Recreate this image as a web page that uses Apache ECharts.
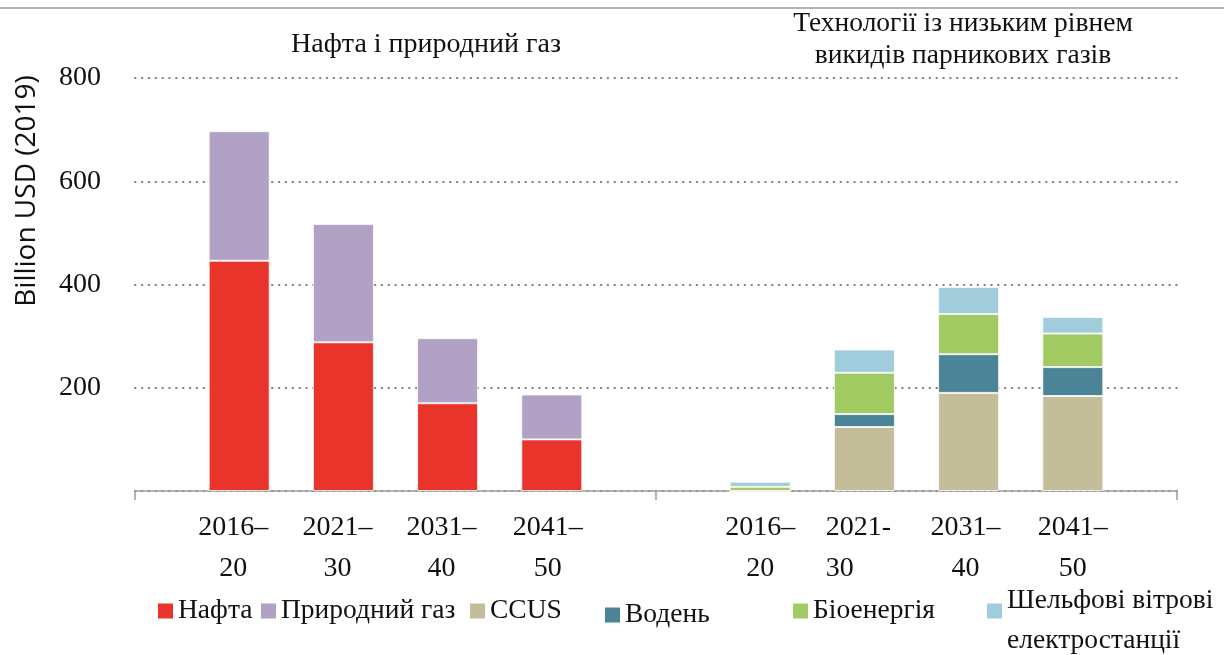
<!DOCTYPE html>
<html>
<head>
<meta charset="utf-8">
<script src="https://cdn.jsdelivr.net/npm/echarts@6/dist/echarts.min.js"></script>
<style>
  html, body { margin: 0; padding: 0; background: #ffffff; }
  #chart { width: 1224px; height: 655px; }
</style>
</head>
<body>
<div id="chart"></div>
<script>
// Investment periods for the two groups of bars
const periodsFossil = ['2016–20', '2021–30', '2031–40', '2041–50'];
const periodsLowCarbon = ['2016–20', '2021-30', '2031–40', '2041–50'];

// Oil and natural gas, billion USD (2019)
const oil = [446, 288, 170, 100];
const naturalGas = [251, 229, 126, 87];

// Low-emission technologies, billion USD (2019)
const ccus = [0, 124, 190, 184];
const hydrogen = [0, 25, 75, 56];
const bioenergy = [8, 80, 78, 65];
const offshoreWind = [10, 45, 52, 32];

// Value axis ticks
const yTicks = [0, 200, 400, 600, 800];

const SERIF = '"Liberation Serif", "DejaVu Serif", serif';
const INK = '#111111';
const FS = 28;

// One category axis: empty slot, four fossil periods, empty divider slot,
// four low-carbon periods, empty slot.
const categories = ['', ...periodsFossil, '', ...periodsLowCarbon, ''];
const padLeft = v => [null, ...v, null, null, null, null, null, null];
const padRight = v => [null, null, null, null, null, null, ...v, null];

// Horizontal nudges for the two-line period labels (px)
const labelNudge = {
  1: { dx: -6 }, 2: { dx: -6 }, 3: { dx: -6 }, 4: { dx: -4 },
  6: { dx: 0 }, 7: { dx: -6, secondLeft: true }, 8: { dx: -3 }, 9: { dx: 0 }
};
const labelFont = { fontFamily: SERIF, fontSize: FS, color: INK, lineHeight: 41 };
const labelRich = {};
Object.keys(labelNudge).forEach(k => {
  const n = labelNudge[k];
  labelRich['t' + k] = Object.assign({ padding: [0, -2 * n.dx, 0, 0] }, labelFont);
  labelRich['b' + k] = Object.assign({ padding: [0, -2 * n.dx, 0, 0], align: n.secondLeft ? 'left' : 'center' }, labelFont);
});
const formatPeriod = (value, index) => {
  if (!value) return '';
  const m = value.match(/^(\d{4}[–-])(\d{2})$/);
  return '{t' + index + '|' + m[1] + '}\n{b' + index + '|' + m[2] + '}';
};

const barBorder = { borderColor: 'rgba(255,255,255,0.75)', borderWidth: 1 };
const makeSeries = (name, data, color) => ({
  name, type: 'bar', stack: 'total', data, barWidth: 61,
  itemStyle: Object.assign({ color }, barBorder),
  emphasis: { disabled: true }
});

const windName = 'Шельфові вітрові електростанції';
const series = [
  makeSeries('Нафта', padLeft(oil), '#e8342a'),
  makeSeries('Природний газ', padLeft(naturalGas), '#b0a1c5'),
  makeSeries('CCUS', padRight(ccus), '#c3bd9a'),
  makeSeries('Водень', padRight(hydrogen), '#4b8397'),
  makeSeries('Біоенергія', padRight(bioenergy), '#a2ca62'),
  makeSeries(windName, padRight(offshoreWind), '#a0ccdb')
];

// Legend entries placed one by one along the bottom
const legendSpots = [
  { name: 'Нафта', left: 158, top: 596 },
  { name: 'Природний газ', left: 261, top: 596 },
  { name: 'CCUS', left: 470, top: 596 },
  { name: 'Водень', left: 605, top: 600 },
  { name: 'Біоенергія', left: 793, top: 596 },
  { name: windName, left: 987, top: 561 }
];
const legendText = { fontFamily: SERIF, fontSize: 27.5, color: INK, lineHeight: 30 };
const legend = legendSpots.map(s => {
  const item = {
    data: [s.name], left: s.left, top: s.top, padding: 0,
    icon: 'rect', itemWidth: 15, itemHeight: 15, selectedMode: false,
    itemStyle: { borderWidth: 0 },
    textStyle: Object.assign({}, legendText)
  };
  if (s.name === windName) {
    // two lines, first line sitting a little above the swatch
    item.formatter = '{s| }\n{w|Шельфові вітрові}\n{w|електростанції}';
    item.textStyle.rich = {
      s: Object.assign({}, legendText, { lineHeight: 20, fontSize: 10 }),
      w: Object.assign({}, legendText, { lineHeight: 40 })
    };
  }
  return item;
});

const chart = echarts.init(document.getElementById('chart'), null, { renderer: 'canvas' });
chart.setOption({
  backgroundColor: '#ffffff',
  animation: false,
  grid: { left: 135, right: 47, top: 78, bottom: 164, containLabel: false },
  xAxis: {
    type: 'category',
    data: categories,
    boundaryGap: false,
    axisLine: { show: true, lineStyle: { color: '#9a9a9a', width: 1.5 } },
    axisTick: {
      show: true, length: 9,
      interval: idx => idx === 0 || idx === 5 || idx === 10,
      lineStyle: { color: '#9a9a9a', width: 1.5 }
    },
    axisLabel: {
      interval: 0, margin: 16, formatter: formatPeriod, rich: labelRich,
      fontFamily: SERIF, fontSize: FS, color: INK, lineHeight: 41
    },
    splitLine: { show: false }
  },
  yAxis: {
    type: 'value',
    min: yTicks[0], max: yTicks[yTicks.length - 1], interval: 200,
    axisLine: { show: false },
    axisTick: { show: false },
    axisLabel: {
      showMinLabel: false, margin: 34,
      fontFamily: SERIF, fontSize: FS, color: INK
    },
    splitLine: { show: true, lineStyle: { color: '#7f7f7f', width: 2, type: [0.5, 6.35], cap: 'round' } }
  },
  legend,
  series,
  graphic: [
    { type: 'line', shape: { x1: 0, y1: 8, x2: 1224, y2: 8 }, style: { stroke: '#b4b4b4', lineWidth: 2 }, silent: true },
    { type: 'text', x: 426, y: 44.5, silent: true,
      style: { text: 'Нафта і природний газ', font: FS + 'px ' + SERIF, fill: INK, align: 'center', verticalAlign: 'middle' } },
    { type: 'text', x: 963, y: 40, silent: true,
      style: { text: 'Технології із низьким рівнем\nвикидів парникових газів', font: '27.5px ' + SERIF, fill: INK,
               align: 'center', verticalAlign: 'middle', lineHeight: 32 } },
    { type: 'text', x: 27, y: 191, rotation: Math.PI / 2, silent: true,
      style: { text: 'Billion USD (2019)', font: '28px "Open Sans", "DejaVu Sans", sans-serif', fill: INK,
               align: 'center', verticalAlign: 'middle' } }
  ]
});
</script>
</body>
</html>
